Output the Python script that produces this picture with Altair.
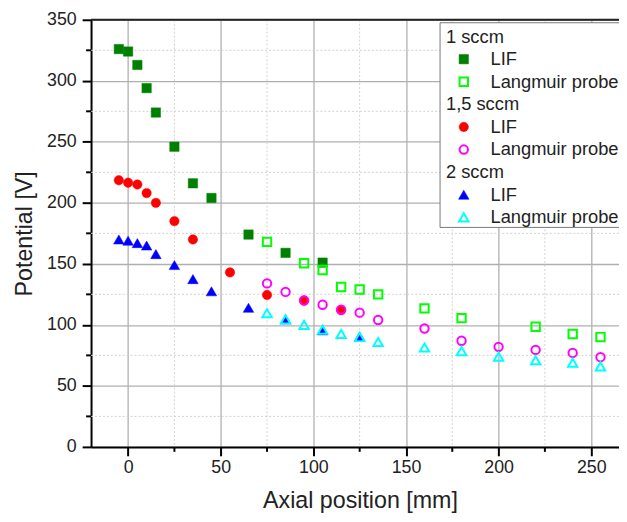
import altair as alt
import pandas as pd

# ---------------- data ----------------
lif1_x = [-5, 0, 5, 10, 15, 25, 35, 45, 65, 85, 105]
lif1_y = [326, 324, 313, 294, 274, 246, 216, 204, 174, 159, 151]

lp1_x = [75, 95, 105, 115, 125, 135, 160, 180, 220, 240, 255]
lp1_y = [168, 150.5, 145, 131, 129, 125, 113.5, 105.5, 98.5, 92.5, 90]

lif15_x = [-5, 0, 5, 10, 15, 25, 35, 55, 75, 95, 115]
lif15_y = [218.5, 216.5, 215, 208, 200, 185, 170, 143, 124.5, 120, 112]

lp15_x = [75, 85, 95, 105, 115, 125, 135, 160, 180, 200, 220, 240, 255]
lp15_y = [134, 127, 120, 116.5, 112.5, 110, 104, 97, 87, 82, 79.5, 77, 73.5]

lif2_x = [-5, 0, 5, 10, 15, 25, 35, 45, 65, 85, 105, 125]
lif2_y = [170, 169, 167, 165, 158, 149, 137.5, 127.5, 114, 104.5, 95.5, 90.5]

lp2_x = [75, 85, 95, 105, 115, 125, 135, 160, 180, 200, 220, 240, 255]
lp2_y = [109.5, 104.5, 100, 96, 92.5, 90, 86, 81.5, 78.5, 74, 71, 69, 66]

groups = ["1 sccm", "1,5 sccm", "2 sccm"]
entries = ["LIF", "Langmuir probe"]

x_major = [0, 50, 100, 150, 200, 250]
x_minor = [25, 75, 125, 175, 225]
y_major = [0, 50, 100, 150, 200, 250, 300, 350]
y_minor = [25, 75, 125, 175, 225, 275, 325]

# ---------------- layout ----------------
W, H = 534, 432
FONT = "Liberation Sans"
TXT = "#222222"
LAB_FS = 18
TITLE_FS = 23.5
LEG_FS = 18.5

xscale = alt.Scale(domain=[-20, 265], nice=False, zero=False)
yscale = alt.Scale(domain=[0, 350], nice=False, zero=False)

xaxis = alt.Axis(
    title="Axial position [mm]", values=x_major, format="d",
    grid=True, gridColor="#b0b0b0", gridWidth=1.3,
    domainColor="black", domainWidth=2,
    tickColor="black", tickWidth=2, tickSize=9,
    labelFont=FONT, labelFontSize=LAB_FS, labelColor=TXT, labelPadding=3,
    titleFont=FONT, titleFontSize=TITLE_FS, titleFontWeight="normal", titleColor=TXT,
    titlePadding=12, titleX=272, labelFlush=False,
)
yaxis = alt.Axis(
    title="Potential [V]", values=y_major, format="d",
    grid=True, gridColor="#b0b0b0", gridWidth=1.3,
    domainColor="black", domainWidth=2,
    tickColor="black", tickWidth=2, tickSize=9,
    labelFont=FONT, labelFontSize=LAB_FS, labelColor=TXT, labelPadding=6,
    titleFont=FONT, titleFontSize=TITLE_FS, titleFontWeight="normal", titleColor=TXT,
    titlePadding=10, labelFlush=False,
)


def X(field):
    return alt.X(field, type="quantitative", scale=xscale, axis=xaxis)


def Y(field):
    return alt.Y(field, type="quantitative", scale=yscale, axis=yaxis)


layers = []

# minor dashed gridlines
layers.append(
    alt.Chart(pd.DataFrame({"v": x_minor})).mark_rule(
        color="#d0d0d0", strokeDash=[2, 2], strokeWidth=1
    ).encode(x=X("v"))
)
layers.append(
    alt.Chart(pd.DataFrame({"v": y_minor})).mark_rule(
        color="#d0d0d0", strokeDash=[2, 2], strokeWidth=1
    ).encode(y=Y("v"))
)

# minor ticks
layers.append(
    alt.Chart(pd.DataFrame({"v": x_minor})).mark_rule(
        color="black", strokeWidth=2
    ).encode(x=X("v"), y=alt.value(H), y2=alt.value(H + 5))
)
layers.append(
    alt.Chart(pd.DataFrame({"v": y_minor})).mark_rule(
        color="black", strokeWidth=2
    ).encode(y=Y("v"), x=alt.value(-5), x2=alt.value(0))
)

# top frame
layers.append(
    alt.Chart(pd.DataFrame({"v": [350]})).mark_rule(
        color="#222222", strokeWidth=2
    ).encode(y=Y("v"), x=alt.value(0), x2=alt.value(W))
)

SIZE = 90
series = [
    (lif1_x, lif1_y, "square", True, "#008000"),
    (lif15_x, lif15_y, "circle", True, "#ff0000"),
    (lif2_x, lif2_y, "triangle-up", True, "#0000ff"),
    (lp1_x, lp1_y, "square", False, "#00ff00"),
    (lp15_x, lp15_y, "circle", False, "#ff00ff"),
    (lp2_x, lp2_y, "triangle-up", False, "#00ffff"),
]


def point_props(shape, filled, color):
    k = 1.25 if shape == "triangle-up" else 1
    if filled:
        return dict(shape=shape, filled=True, fill=color, stroke=color,
                    strokeWidth=0.5, opacity=1, size=SIZE * k)
    return dict(shape=shape, filled=False, stroke=color, strokeWidth=2,
                opacity=1, size=(SIZE - 18) * k)


for xs, ys, shape, filled, color in series:
    df = pd.DataFrame({"x": xs, "y": ys})
    layers.append(
        alt.Chart(df).mark_point(**point_props(shape, filled, color)).encode(
            x=X("x"), y=Y("y"))
    )

# ---------------- legend ----------------
box_l, box_t, box_b = 353, 3, 210
layers.append(
    alt.Chart(pd.DataFrame({"a": [0]})).mark_rect(
        fill="white", stroke="#777777", strokeWidth=1
    ).encode(x=alt.value(box_l), x2=alt.value(W + 3), y=alt.value(box_t), y2=alt.value(box_b))
)

row0, step = 17, 22.85
tx_title, tx_sym, tx_lab = 359, 377, 404
styles = [s[2:] for s in series]
row = 0
for gi, g in enumerate(groups):
    layers.append(
        alt.Chart(pd.DataFrame({"t": [g]})).mark_text(
            align="left", baseline="middle", font=FONT, fontSize=LEG_FS, color=TXT
        ).encode(x=alt.value(tx_title), y=alt.value(row0 + row * step), text="t:N")
    )
    row += 1
    for ei, e in enumerate(entries):
        shape, filled, color = styles[ei * 3 + gi]
        yy = row0 + row * step
        layers.append(
            alt.Chart(pd.DataFrame({"a": [0]})).mark_point(
                **point_props(shape, filled, color)).encode(
                x=alt.value(tx_sym), y=alt.value(yy))
        )
        layers.append(
            alt.Chart(pd.DataFrame({"t": [e]})).mark_text(
                align="left", baseline="middle", font=FONT, fontSize=LEG_FS, color=TXT
            ).encode(x=alt.value(tx_lab), y=alt.value(yy), text="t:N")
        )
        row += 1

chart = alt.layer(*layers).properties(
    width=W, height=H,
    autosize=alt.AutoSizeParams(type="none"),
    padding={"left": 84, "top": 9, "right": 0, "bottom": 70},
).configure_view(stroke=None).configure(background="white")

chart.save("out.html", embed_options={"renderer": "svg", "actions": False})
